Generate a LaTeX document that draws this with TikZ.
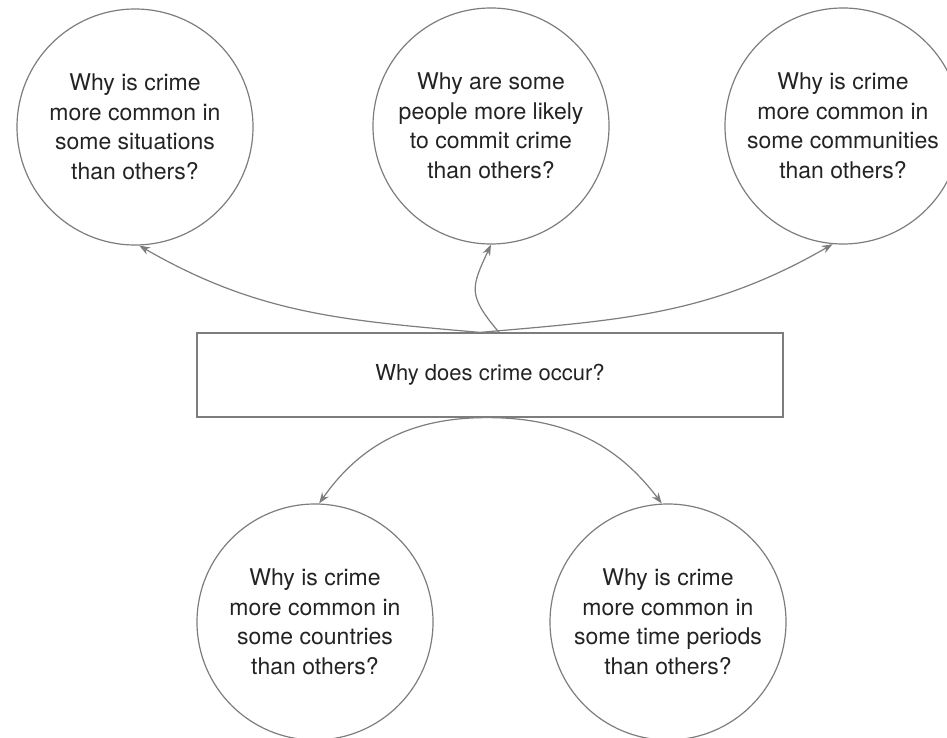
\documentclass[tikz,border=0pt]{standalone}
\usepackage{fontspec}
\setmainfont{TeX Gyre Heros}
\usetikzlibrary{arrows.meta, positioning}
\definecolor{mygray1}{RGB}{125, 125, 125}
\definecolor{mydarkgray1}{RGB}{35, 35, 35}

\begin{document}
\begin{tikzpicture}[x=1pt, y=-1pt,
  question/.style={circle, draw=mygray1, line width=1.2, minimum size=236, inner sep=0, text=mydarkgray1, align=center, font=\fontsize{23}{29.5}\selectfont},
  link/.style={-{Stealth[length=11, width=8]}, line width=1.2, mygray1}]
\useasboundingbox (0,0) rectangle (947,738);

% --- Top circles ---
\node at (135,127) [question] (situations) {Why is crime\\more common in\\some situations\\than others?};
\node at (491,126) [question] (people) {Why are some\\people more likely\\to commit crime\\than others?};
\node at (843,126) [question] (communities) {Why is crime\\more common in\\some communities\\than others?};

% --- Main question ---
\node at (490,375) [draw=mygray1, line width=1.2, minimum width=586, minimum height=84, text=mydarkgray1, font=\fontsize{22}{27}\selectfont] (occur) {Why does crime occur?};

% --- Bottom circles ---
\node at (315,622) [question] (countries) {Why is crime\\more common in\\some countries\\than others?};
\node at (668,622) [question] (periods) {Why is crime\\more common in\\some time periods\\than others?};

% --- Arrows ---
\draw ([xshift=-10]occur.north) edge[link, out=175, in=-30] (situations.-88);
\draw ([xshift=9]occur.north) edge[link, out=130, in=-115, looseness=1.4] (people.south);
\draw ([xshift=-10]occur.north) edge[link, out=5, in=210] (communities.-95);
\draw ([xshift=-3]occur.south) edge[link, out=180, in=55] (countries.88);
\draw ([xshift=-3]occur.south) edge[link, out=0, in=127] (periods.93);
\end{tikzpicture}
\end{document}
